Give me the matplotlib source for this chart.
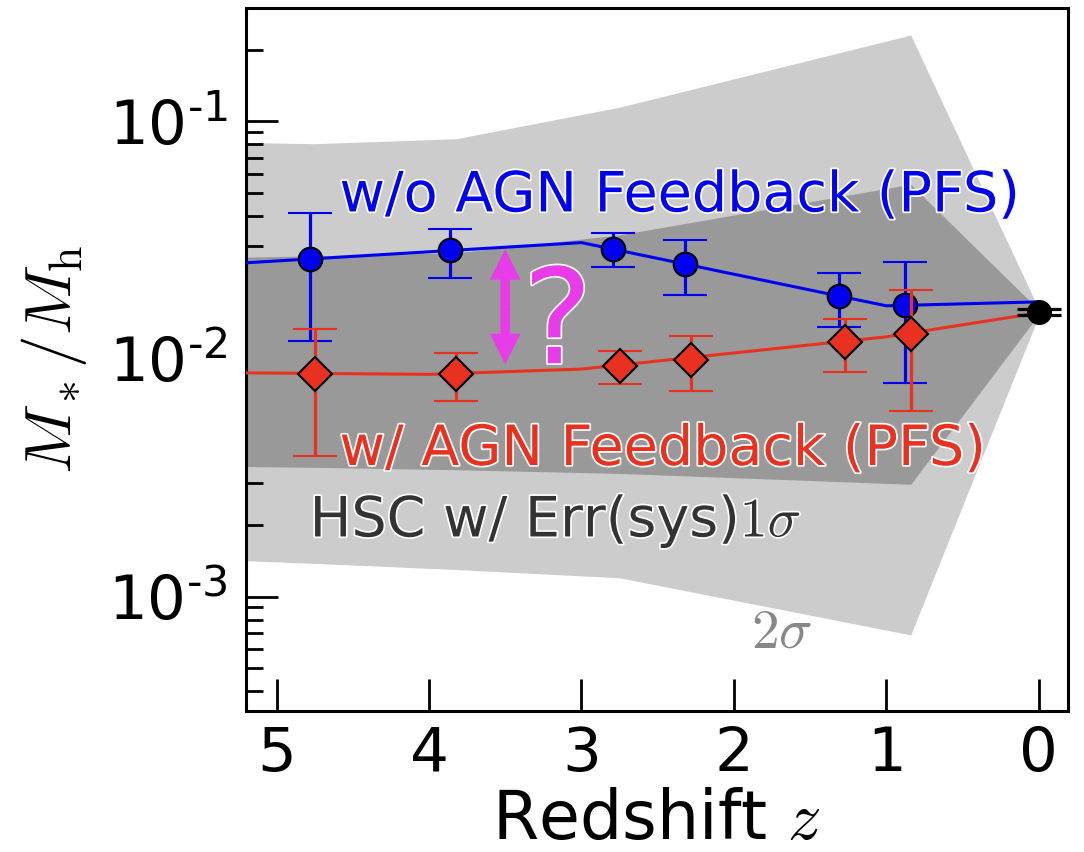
import matplotlib
matplotlib.use("Agg")
import matplotlib.pyplot as plt
import matplotlib.patheffects as pe
from matplotlib.ticker import FuncFormatter
import numpy as np

plt.rcParams["mathtext.fontset"] = "cm"
plt.rcParams["axes.unicode_minus"] = False
plt.rcParams["font.family"] = ["DejaVu Sans"]

# HSC constraint bands (1 sigma / 2 sigma)
band_z = [5.25, 4.75, 3.82, 2.75, 0.84, 0.0]
band2_hi = [0.0816, 0.0806, 0.0846, 0.1148, 0.2311, 0.0162]
band2_lo = [0.00142, 0.00138, 0.00130, 0.00120, 0.00069, 0.0152]
band1_hi = [0.0268, 0.0272, 0.0280, 0.0333, 0.0544, 0.0161]
band1_lo = [0.00353, 0.00350, 0.00342, 0.00330, 0.00297, 0.0154]

# model curves
noagn_z = [5.25, 3.0, 1.0, 0.0]
noagn_v = [0.0253, 0.0309, 0.01675, 0.0174]
agn_z = [5.25, 4.0, 3.0, 1.0, 0.0]
agn_v = [0.00875, 0.00862, 0.00907, 0.0124, 0.01565]

# PFS forecasts, w/o AGN feedback
pfs_noagn_z = [4.78, 3.86, 2.79, 2.32, 1.31, 0.88]
pfs_noagn_v = [0.0263, 0.0288, 0.0290, 0.0251, 0.0184, 0.0169]
pfs_noagn_hi = [0.0411, 0.0352, 0.0339, 0.0318, 0.0230, 0.0257]
pfs_noagn_lo = [0.0119, 0.0220, 0.0244, 0.0186, 0.0137, 0.0079]

# PFS forecasts, w/ AGN feedback
pfs_agn_z = [4.745, 3.82, 2.75, 2.28, 1.27, 0.84]
pfs_agn_v = [0.00866, 0.00866, 0.00936, 0.00992, 0.0118, 0.0128]
pfs_agn_hi = [0.0134, 0.01065, 0.01083, 0.01256, 0.0148, 0.0196]
pfs_agn_lo = [0.00389, 0.00667, 0.00784, 0.00735, 0.00881, 0.00605]

# local point
z0 = [0.0]
v0 = [0.01576]
v0_hi = [0.01627]
v0_lo = [0.01535]

# double arrow between the two predictions
arrow_z = 3.5
arrow_top = 0.0290
arrow_bot = 0.0095

blue = "#0000f0"
red = "#e8321f"
magenta = "#e83ce8"

fig = plt.figure(figsize=(10.84, 8.52), dpi=100)
ax = fig.add_axes([0.227, 0.1655, 0.758, 0.825])

ax.fill_between(band_z, band2_lo, band2_hi, color="#cccccc", lw=0, zorder=1)
ax.fill_between(band_z, band1_lo, band1_hi, color="#999999", lw=0, zorder=2)

ax.plot(noagn_z, noagn_v, color=blue, lw=2.2, zorder=3)
ax.plot(agn_z, agn_v, color=red, lw=2.2, zorder=3)


def asym(v, lo, hi):
    return [[a - b for a, b in zip(v, lo)], [c - a for a, c in zip(v, hi)]]


ax.errorbar(pfs_noagn_z, pfs_noagn_v, yerr=asym(pfs_noagn_v, pfs_noagn_lo, pfs_noagn_hi),
            fmt="o", color=blue, ms=17, mfc=blue, mec="k", mew=1.5,
            elinewidth=2.3, capsize=16, capthick=2.3, zorder=4)
ax.errorbar(pfs_agn_z, pfs_agn_v, yerr=asym(pfs_agn_v, pfs_agn_lo, pfs_agn_hi),
            fmt="D", color=red, ms=17, mfc=red, mec="k", mew=1.5,
            elinewidth=2.3, capsize=16, capthick=2.3, zorder=5)
ax.errorbar(z0, v0, yerr=asym(v0, v0_lo, v0_hi), fmt="o", color="k", ms=17,
            elinewidth=2.3, capsize=16, capthick=2.3, zorder=6)

stroke = [pe.withStroke(linewidth=2.5, foreground="white")]
ax.text(4.587, 0.0418, "w/o AGN Feedback (PFS)", color=blue, fontsize=40,
        ha="left", va="baseline", path_effects=stroke, zorder=7)
ax.text(4.587, 0.00358, "w/ AGN Feedback (PFS)", color=red, fontsize=40,
        ha="left", va="baseline", path_effects=stroke, zorder=7)
ax.text(4.783, 0.00179, r"HSC w/ Err(sys)$1\sigma$", color="#333333", fontsize=40,
        ha="left", va="baseline", path_effects=stroke, zorder=7)
ax.text(1.885, 0.000608, r"$2\sigma$", color="#888888", fontsize=40,
        ha="left", va="baseline", zorder=7)

arrow_mid = np.sqrt(arrow_top * arrow_bot)
for tip in (arrow_top, arrow_bot):
    ax.annotate("", xy=(arrow_z, tip), xytext=(arrow_z, arrow_mid),
                arrowprops=dict(arrowstyle="simple,head_length=2.2,head_width=2.2,tail_width=0.7",
                                mutation_scale=10, lw=0, color=magenta,
                                shrinkA=0, shrinkB=0), zorder=7)
ax.text(3.156, 0.0096, "?", color=magenta, fontsize=95, ha="center", va="baseline",
        path_effects=stroke, zorder=7)

ax.set_yscale("log")
ax.set_xlim(5.2, -0.19)
ax.set_ylim(3.3e-4, 0.30)
ax.set_xticks([5, 4, 3, 2, 1, 0])
ax.yaxis.set_major_formatter(FuncFormatter(
    lambda v, pos: "$\\mathdefault{10^{\u2010%d}}$" % round(-np.log10(v))))

ax.tick_params(axis="both", which="major", direction="in", length=23, width=2,
               labelsize=44, top=False, right=False)
ax.tick_params(axis="x", pad=10)
ax.tick_params(axis="y", pad=13)
ax.tick_params(axis="y", which="minor", direction="in", length=12, width=2,
               right=False)
for s in ax.spines.values():
    s.set_linewidth(2.2)

ax.set_xlabel(r"Redshift $z$", fontsize=48, labelpad=2)
ax.set_ylabel(r"$M_*/M_{\rm h}$", fontsize=47, labelpad=14)

fig.savefig("out.png", dpi=100)
